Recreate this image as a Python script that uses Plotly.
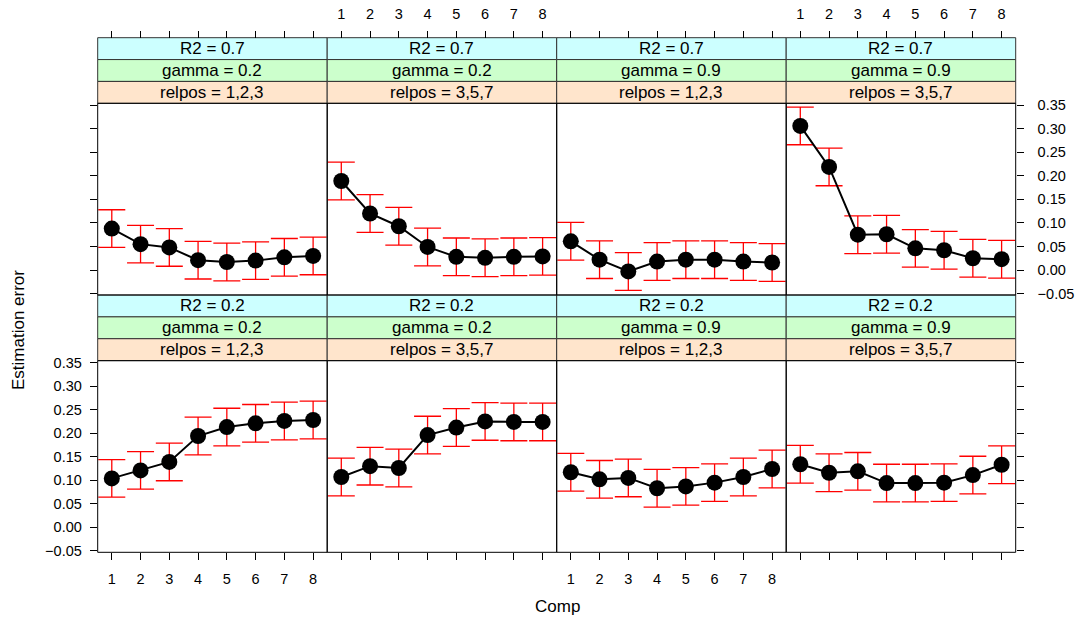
import plotly.graph_objects as go

# ---------------- data ----------------
comp = [1, 2, 3, 4, 5, 6, 7, 8]

r2_levels = ["0.7", "0.7", "0.7", "0.7", "0.2", "0.2", "0.2", "0.2"]
gamma_levels = ["0.2", "0.2", "0.9", "0.9", "0.2", "0.2", "0.9", "0.9"]
relpos_levels = ["1,2,3", "3,5,7", "1,2,3", "3,5,7", "1,2,3", "3,5,7", "1,2,3", "3,5,7"]

est_p1 = [0.088, 0.055, 0.048, 0.021, 0.017, 0.020, 0.027, 0.030]
est_p2 = [0.189, 0.120, 0.093, 0.049, 0.028, 0.026, 0.028, 0.029]
est_p3 = [0.061, 0.022, -0.003, 0.018, 0.022, 0.022, 0.018, 0.016]
est_p4 = [0.306, 0.219, 0.075, 0.076, 0.046, 0.042, 0.025, 0.023]
est_p5 = [0.104, 0.121, 0.139, 0.194, 0.213, 0.221, 0.226, 0.228]
est_p6 = [0.107, 0.130, 0.126, 0.196, 0.212, 0.225, 0.224, 0.224]
est_p7 = [0.117, 0.102, 0.105, 0.083, 0.087, 0.095, 0.107, 0.124]
est_p8 = [0.134, 0.116, 0.119, 0.094, 0.094, 0.095, 0.111, 0.133]

err_p1 = [0.040] * 8
err_p2 = [0.040] * 8
err_p3 = [0.040] * 8
err_p4 = [0.040] * 8
err_p5 = [0.040] * 8
err_p6 = [0.040] * 8
err_p7 = [0.040] * 8
err_p8 = [0.040] * 8

estimates = [est_p1, est_p2, est_p3, est_p4, est_p5, est_p6, est_p7, est_p8]
errors = [err_p1, err_p2, err_p3, err_p4, err_p5, err_p6, err_p7, err_p8]

y_ticks = [-0.05, 0.00, 0.05, 0.10, 0.15, 0.20, 0.25, 0.30, 0.35]
y_tick_labels = ["\u22120.05", "0.00", "0.05", "0.10", "0.15", "0.20", "0.25", "0.30", "0.35"]

# ---------------- layout geometry (pixels) ----------------
W, H = 1078, 620
FONT = "Liberation Sans, Arial, sans-serif"
TICK_SIZE = 14.5
x_left, col_w = 97.7, 229.5
row_panel = [(103.3, 295.0), (360.7, 552.3)]   # (top, bottom) in px
row_strip_top = [37.7, 295.0]
strip_h = (103.3 - 37.7) / 3
strip_cols = ["#CCFFFF", "#CCFFCC", "#FFE5CC"]

def px_x(p):
    return p / W

def px_y(p):
    return 1 - p / H

fig = go.Figure()
shapes = []
annotations = []

for i in range(8):
    row, col = divmod(i, 4)
    n = i + 1
    xa = "x" if n == 1 else f"x{n}"
    ya = "y" if n == 1 else f"y{n}"
    fig.add_trace(go.Scatter(
        x=comp, y=estimates[i], xaxis=xa, yaxis=ya, mode="lines+markers",
        line=dict(color="black", width=2),
        marker=dict(color="black", size=16),
        error_y=dict(type="data", array=errors[i], visible=True,
                     color="#FF0000", thickness=1.3, width=13.5),
        showlegend=False, cliponaxis=False, hoverinfo="skip",
    ))
    x0 = x_left + col * col_w
    x1 = x0 + col_w
    ptop, pbot = row_panel[row]
    xdom = [px_x(x0), px_x(x1)]
    ydom = [px_y(pbot), px_y(ptop)]

    xkey = "xaxis" if n == 1 else f"xaxis{n}"
    ykey = "yaxis" if n == 1 else f"yaxis{n}"
    common_x = dict(domain=xdom, range=[0.51, 8.49], tickvals=comp,
                    showgrid=False, zeroline=False, showline=False,
                    automargin=False, fixedrange=True,
                    ticks="outside", ticklen=7, tickwidth=1, tickcolor="black",
                    ticklabelstandoff=6,
                    tickfont=dict(family=FONT, size=TICK_SIZE, color="black"))
    if row == 0:
        xax = dict(common_x, anchor="free", position=px_y(row_strip_top[0]),
                   side="top", showticklabels=(col in (1, 3)))
    else:
        xax = dict(common_x, anchor=ya, side="bottom",
                   showticklabels=(col in (0, 2)))
    fig.layout[xkey] = xax

    common_y = dict(domain=ydom, range=[-0.053, 0.354], tickvals=y_ticks,
                    ticktext=y_tick_labels, showgrid=False, zeroline=False,
                    showline=False, tickwidth=1, tickcolor="black", ticklen=7,
                    automargin=False, fixedrange=True,
                    tickfont=dict(family=FONT, size=TICK_SIZE, color="black"))
    if col == 0:
        yax = dict(common_y, anchor=xa, side="left", ticks="outside",
                   ticklabelstandoff=5, showticklabels=(row == 1))
    elif col == 3:
        yax = dict(common_y, anchor=xa, side="right", ticks="outside",
                   ticklabelstandoff=11, showticklabels=(row == 0))
    else:
        yax = dict(common_y, anchor=xa, ticks="", showticklabels=False)
    fig.layout[ykey] = yax

    # panel border
    shapes.append(dict(type="rect", xref="paper", yref="paper",
                       x0=px_x(x0), x1=px_x(x1), y0=px_y(pbot), y1=px_y(ptop),
                       line=dict(color="black", width=1), fillcolor="rgba(0,0,0,0)",
                       layer="above"))
    # strips
    labels = [f"R2 = {r2_levels[i]}", f"gamma = {gamma_levels[i]}",
              f"relpos = {relpos_levels[i]}"]
    for k in range(3):
        st = row_strip_top[row] + k * strip_h
        sb = st + strip_h
        shapes.append(dict(type="rect", xref="paper", yref="paper",
                           x0=px_x(x0), x1=px_x(x1), y0=px_y(sb), y1=px_y(st),
                           line=dict(color="#333333", width=1),
                           fillcolor=strip_cols[k], layer="below"))
        annotations.append(dict(x=px_x((x0 + x1) / 2), y=px_y((st + sb) / 2),
                                xref="paper", yref="paper", text=labels[k],
                                showarrow=False, xanchor="center", yanchor="middle",
                                font=dict(family=FONT, size=17, color="black")))

annotations.append(dict(x=px_x(18), y=px_y(330), xref="paper", yref="paper",
                        text="Estimation error", textangle=-90, showarrow=False,
                        xanchor="center", yanchor="middle",
                        font=dict(family=FONT, size=17, color="black")))
annotations.append(dict(x=px_x(557), y=px_y(606), xref="paper", yref="paper",
                        text="Comp", showarrow=False, xanchor="center",
                        yanchor="middle", font=dict(family=FONT, size=17, color="black")))

fig.update_layout(width=W, height=H,
                  margin=dict(l=0, r=0, t=0, b=0, pad=0, autoexpand=False),
                  paper_bgcolor="white", plot_bgcolor="rgba(0,0,0,0)",
                  shapes=shapes, annotations=annotations, showlegend=False,
                  hovermode=False)

fig.write_html("out.html", config={"displayModeBar": False, "staticPlot": True},
               post_script="document.body.style.margin='0';")
